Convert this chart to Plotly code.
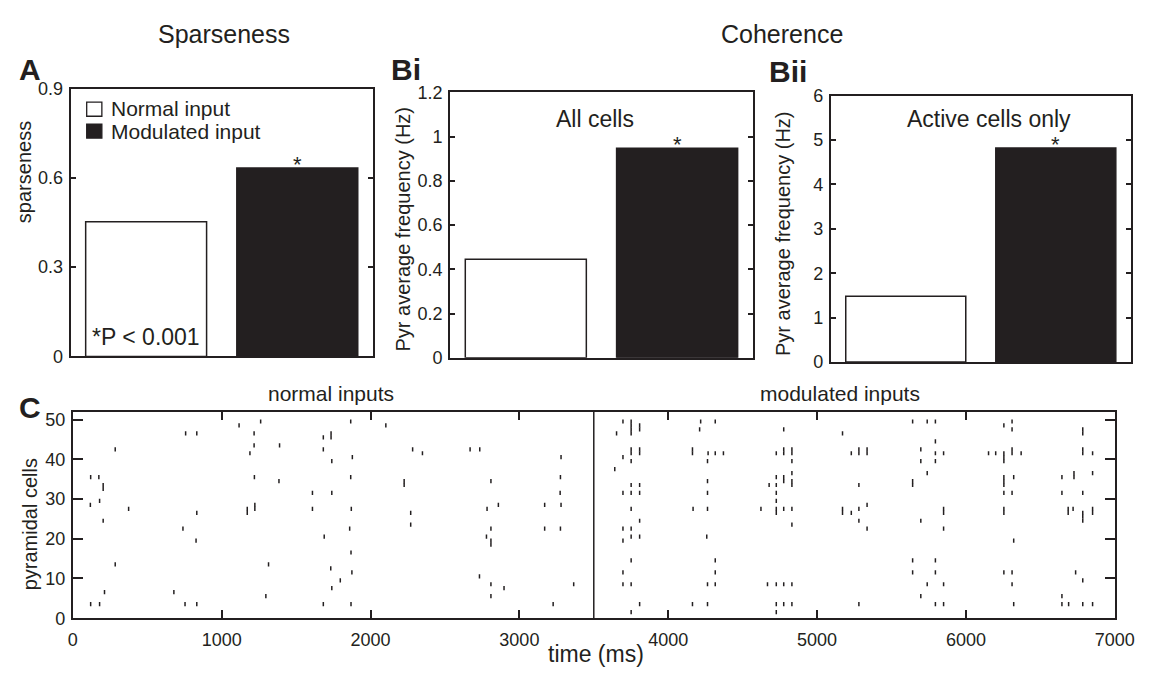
import plotly.graph_objects as go

W, H = 1156, 677
DARK = "#231f20"
FONT = "Liberation Sans, Arial, Helvetica, sans-serif"

# ---------------- data ----------------
conditions = ["Normal input", "Modulated input"]
bar_positions = [1, 2]
sparseness = [0.453, 0.633]
freq_all_cells = [0.445, 0.948]
freq_active_cells = [1.48, 4.82]

normal_spike_times = [
    120, 180, 213, 285, 204, 118, 180, 375, 204, 204, 120, 175, 285,
    758, 833, 740, 833, 828, 679, 754, 833,
    1117, 1262, 1218, 1218, 1389, 1190, 1220, 1385, 1172, 1172, 1223, 1223, 1315, 1297,
    1610, 1610, 1683, 1735, 1735, 1683, 1740, 1740, 1689, 1733, 1740, 1683, 1797,
    1867, 1878, 1867, 1871, 1860, 1869, 1875, 1869,
    2103, 2283, 2349, 2226, 2226, 2270, 2270,
    2669, 2734, 2809, 2783, 2859, 2809, 2779, 2809, 2809, 2732, 2809, 2897, 2809,
    3280, 3276, 3274, 3170, 3280, 3170, 3276, 3365, 3227,
]
normal_spike_cells = [
    3, 3, 6, 13, 24, 28, 29, 27, 33, 32, 35, 35, 42,
    46, 46, 22, 26, 19, 6, 3, 3,
    48, 49, 46, 43, 43, 41, 35, 34, 27, 26, 28, 27, 13, 5,
    31, 27, 45, 46, 45, 42, 39, 31, 20, 12, 7, 3, 9,
    49, 40, 35, 27, 22, 16, 11, 3,
    48, 42, 41, 34, 33, 26, 23,
    42, 42, 34, 27, 28, 22, 20, 19, 18, 10, 8, 7, 5,
    40, 35, 31, 28, 28, 22, 22, 8, 3,
]

modulated_spike_times = [
    3696, 3751, 3751, 3751, 3751, 3808, 3808, 3653, 3751, 3751, 3808, 3808, 3696, 3751,
    3641, 3751, 3808, 3696, 3751, 3808, 3751, 3808, 3696, 3751, 3696, 3751, 3808, 3751,
    3696, 3696, 3751, 3808, 3751,
    4218, 4316, 4211, 4163, 4163, 4268, 4316, 4371, 4264, 4264, 4264, 4167, 4264, 4259,
    4316, 4316, 4264, 4316, 4163, 4264,
    4776, 4726, 4776, 4776, 4831, 4831, 4831, 4831, 4726, 4776, 4776, 4831, 4831, 4678,
    4726, 4726, 4726, 4623, 4726, 4726, 4776, 4831, 4831, 4667, 4726, 4776, 4831, 4726,
    4776, 4831, 4726,
    5171, 5230, 5281, 5281, 5336, 5336, 5281, 5171, 5171, 5230, 5281, 5336, 5281, 5336, 5281,
    5642, 5740, 5795, 5795, 5697, 5795, 5850, 5697, 5795, 5740, 5642, 5642, 5850, 5850,
    5697, 5850, 5642, 5795, 5642, 5795, 5740, 5850, 5697, 5795, 5850,
    6255, 6310, 6310, 6152, 6200, 6255, 6255, 6255, 6310, 6310, 6371, 6255, 6255, 6255,
    6321, 6255, 6310, 6255, 6255, 6321, 6255, 6310, 6310, 6321,
    6785, 6785, 6785, 6785, 6851, 6851, 6726, 6726, 6645, 6645, 6785, 6687, 6687, 6720,
    6785, 6785, 6785, 6851, 6851, 6737, 6785, 6645, 6645, 6690, 6785, 6851,
]
modulated_spike_cells = [
    49, 49, 48, 47, 46, 48, 47, 46, 42, 41, 42, 41, 40, 39,
    37, 33, 33, 31, 31, 31, 27, 24, 22, 22, 19, 20, 20, 14,
    11, 8, 8, 3, 1,
    49, 49, 47, 42, 41, 41, 41, 41, 39, 34, 31, 27, 27, 20,
    14, 11, 8, 8, 3, 3,
    47, 41, 42, 41, 42, 41, 39, 36, 35, 35, 34, 34, 33, 33,
    33, 31, 29, 27, 27, 26, 27, 27, 23, 8, 8, 8, 8, 3,
    3, 3, 1,
    46, 41, 42, 41, 42, 41, 33, 27, 26, 26, 27, 28, 24, 22, 3,
    49, 49, 49, 44, 42, 41, 41, 39, 39, 36, 34, 33, 27, 26,
    24, 22, 14, 14, 11, 11, 8, 8, 5, 3, 3,
    48, 49, 47, 41, 41, 41, 40, 39, 42, 41, 41, 35, 34, 33,
    35, 31, 31, 27, 26, 19, 11, 11, 8, 3,
    47, 46, 42, 41, 41, 36, 36, 35, 35, 31, 31, 27, 26, 27,
    26, 25, 24, 27, 26, 11, 9, 5, 3, 3, 3, 3,
]

raster_xticks = [0, 1000, 2000, 3000, 4000, 5000, 6000, 7000]
raster_yticks = [0, 10, 20, 30, 40, 50]
sparseness_ticks = [0, 0.3, 0.6, 0.9]
freq_all_ticks = [0, 0.2, 0.4, 0.6, 0.8, 1, 1.2]
freq_active_ticks = [0, 1, 2, 3, 4, 5, 6]


# ---------------- helpers (layout only) ----------------
def px(x):
    return x / W


def py(y):
    return 1 - y / H


def bar_trace(values, ax):
    return go.Bar(
        x=bar_positions, y=values, width=0.8,
        marker=dict(color=["white", DARK], line=dict(color=DARK, width=1.5)),
        xaxis="x" + ax, yaxis="y" + ax, showlegend=False, hoverinfo="skip",
    )


def spike_trace(times, cells):
    return go.Scatter(
        x=times, y=[c + 0.55 for c in cells], mode="markers",
        marker=dict(symbol="line-ns", size=3, line=dict(color=DARK, width=1.5)),
        xaxis="x4", yaxis="y4", showlegend=False, hoverinfo="skip",
    )


fig = go.Figure()
fig.add_trace(bar_trace(sparseness, ""))
fig.add_trace(bar_trace(freq_all_cells, "2"))
fig.add_trace(bar_trace(freq_active_cells, "3"))
fig.add_trace(spike_trace(normal_spike_times, normal_spike_cells))
fig.add_trace(spike_trace(modulated_spike_times, modulated_spike_cells))

tickfont = dict(family=FONT, size=18, color=DARK)


def bar_xaxis(l, r, anchor):
    return dict(domain=[px(l), px(r)], range=[0.5, 2.5], anchor=anchor,
                showticklabels=False, ticks="", showgrid=False, zeroline=False,
                showline=True, linecolor=DARK, linewidth=2, mirror=True, fixedrange=True)


def bar_yaxis(t, b, anchor, rng, tv):
    return dict(domain=[py(b), py(t)], range=rng, anchor=anchor, tickvals=tv,
                ticks="inside", ticklen=5, tickwidth=1.5, tickcolor=DARK,
                tickfont=tickfont, ticklabelstandoff=2, showgrid=False, zeroline=False,
                showline=True, linecolor=DARK, linewidth=2, mirror="ticks", fixedrange=True)


fig.update_layout(
    width=W, height=H, margin=dict(l=0, r=0, t=0, b=0),
    paper_bgcolor="white", plot_bgcolor="white", showlegend=False,
    font=dict(family=FONT, color=DARK),
    xaxis=bar_xaxis(67, 376, "y"),
    yaxis=bar_yaxis(81, 357, "x", [0, 0.9], sparseness_ticks),
    xaxis2=bar_xaxis(455, 764.3, "y2"),
    yaxis2=bar_yaxis(85, 358.3, "x2", [0, 1.2], freq_all_ticks),
    xaxis3=bar_xaxis(844, 1150.7, "y3"),
    yaxis3=bar_yaxis(88.3, 362.7, "x3", [0, 6], freq_active_ticks),
    xaxis4=dict(domain=[px(69.3), px(1134.3)], range=[0, 7000], anchor="y4",
                tickvals=raster_xticks, ticks="inside", ticklen=8, tickwidth=1.5,
                tickcolor=DARK, tickfont=tickfont, ticklabelstandoff=4,
                showgrid=False, zeroline=False,
                showline=True, linecolor=DARK, linewidth=2, mirror="ticks"),
    yaxis4=dict(domain=[py(626.7), py(414)], range=[0, 52], anchor="x4",
                tickvals=raster_yticks, ticks="inside", ticklen=10, tickwidth=1.5,
                tickcolor=DARK, tickfont=tickfont, ticklabelstandoff=2,
                showgrid=False, zeroline=False,
                showline=True, linecolor=DARK, linewidth=2, mirror="ticks"),
)

# divider between the two input conditions
fig.add_shape(type="line", xref="x4", yref="y4 domain", x0=3500, x1=3500, y0=0, y1=1,
              line=dict(color=DARK, width=1.5))

# legend swatches (panel A)
fig.add_shape(type="rect", xref="paper", yref="paper",
              x0=px(83.5), x1=px(99), y0=py(109.5), y1=py(95),
              fillcolor="white", line=dict(color=DARK, width=1.3))
fig.add_shape(type="rect", xref="paper", yref="paper",
              x0=px(83.5), x1=px(99), y0=py(132), y1=py(117.5),
              fillcolor=DARK, line=dict(color=DARK, width=1.3))


def text(t, x, y, size, xanchor="center", textangle=0):
    fig.add_annotation(text=t, x=px(x), y=py(y), xref="paper", yref="paper",
                       xanchor=xanchor, yanchor="middle", showarrow=False,
                       textangle=textangle, font=dict(family=FONT, size=size, color=DARK))


text("Sparseness", 224, 24.5, 25)
text("Coherence", 794, 24.5, 25)
text("<b>A</b>", 12, 61, 30, "left")
text("<b>Bi</b>", 392, 61, 30, "left")
text("<b>Bii</b>", 779, 63, 30, "left")
text("<b>C</b>", 12, 410, 30, "left")
text(conditions[0], 106, 101, 21, "left")
text(conditions[1], 106, 125.5, 21, "left")
text("*P < 0.001", 87, 337, 23, "left")
text("All cells", 603, 112.5, 23)
text("Active cells only", 1006, 112.5, 23)
text("sparseness", 19.5, 167, 20, textangle=-90)
text("Pyr average frequency (Hz)", 407, 226, 20, textangle=-90)
text("Pyr average frequency (Hz)", 795, 230, 20, textangle=-90)
text("normal inputs", 333, 395, 21)
text("modulated inputs", 853, 395, 21)
text("time (ms)", 604, 664, 23)
text("pyramidal cells", 25, 529.5, 20, textangle=-90)

# significance asterisks above the modulated bars
for ax, vals in (("", sparseness), ("2", freq_all_cells), ("3", freq_active_cells)):
    fig.add_annotation(text="*", x=bar_positions[1], y=vals[1], xref="x" + ax, yref="y" + ax,
                       yanchor="middle", yshift=4, showarrow=False,
                       font=dict(family=FONT, size=22, color=DARK))

fig.write_html(
    "out.html",
    post_script="document.body.style.margin='0';document.body.style.overflow='hidden';",
)
